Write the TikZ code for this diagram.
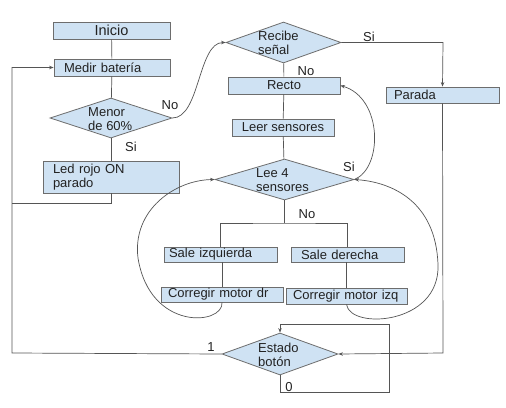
\documentclass[tikz,border=0pt]{standalone}
\usepackage{fontspec}
\setmainfont{Liberation Sans}
\usetikzlibrary{shapes.geometric,arrows.meta}
\definecolor{boxfill}{HTML}{CFE2F3}
\definecolor{boxline}{HTML}{6D6D6D}
\definecolor{conn}{HTML}{555555}
\definecolor{txt}{HTML}{222222}
\tikzset{
  every node/.style={font=\fontsize{13}{14}\selectfont, text=txt},
  box/.style={draw=boxline, fill=boxfill, line width=0.8pt, rectangle, inner ysep=0pt, minimum height=#1},
  box/.default=17pt,
  lbox/.style 2 args={box, text width=#1-2*#2, inner xsep=#2, align=left},
  dia/.style={draw=boxline, fill=boxfill, line width=0.8pt, diamond, inner sep=0pt},
  dtext/.style={anchor=west, align=left, inner sep=0pt},
  lab/.style={inner sep=0pt},
  link/.style={draw=conn, line width=0.7pt},
  arr/.style={link, -{Stealth[length=4.5pt,width=3.5pt]}},
}
\begin{document}
\begin{tikzpicture}[x=1pt,y=-1pt]
\useasboundingbox (0,0) rectangle (506,407);
\fill[white] (0,0) rectangle (506,407);

% boxes
\node[box, minimum width=117pt, font=\fontsize{14.5}{16}\selectfont] (inicio) at (111.5,30.5) {Inicio};
\node[lbox={116pt}{10pt}] (medir) at (112,67.5) {Medir batería};
\node[lbox={136pt}{10pt}, minimum height=32pt] (led) at (111,177) {Led rojo ON\\parado};
\node[box, minimum width=112pt] (recto) at (284,85.5) {Recto};
\node[box, minimum width=102pt] (leer) at (283,127.5) {Leer sensores};
\node[lbox={113pt}{8pt}, minimum height=16pt] (parada) at (442.5,95) {Parada};
\node[lbox={113pt}{5pt}, minimum height=15pt] (sizq) at (220.5,254.5) {Sale izquierda};
\node[lbox={113pt}{10pt}, minimum height=15pt] (sder) at (347.5,254.5) {Sale derecha};
\node[lbox={122pt}{7pt}, minimum height=15pt] (cdr) at (222,294.5) {Corregir motor dr};
\node[lbox={121pt}{7pt}, minimum height=16pt] (cizq) at (346.5,296) {Corregir motor izq};

% diamonds
\node[dia, minimum width=122pt, minimum height=40pt] (menor) at (111,118) {};
\node[dtext] at (88,119) {Menor\\de 60\%};
\node[dia, minimum width=115pt, minimum height=41pt] (recibe) at (283.5,42.5) {};
\node[dtext] at (258,42.5) {Recibe\\señal};
\node[dia, minimum width=139pt, minimum height=41pt] (lee) at (284.5,179.5) {};
\node[dtext] at (256,180) {Lee 4\\sensores};
\node[dia, minimum width=116pt, minimum height=42pt] (estado) at (280,354) {};
\node[dtext] at (258,354.5) {Estado\\botón};

% coordinates
\coordinate (lefttop) at (12,67.5);
\coordinate (leftmid) at (12,203);
\coordinate (leftbot) at (12,353);
\coordinate (ledturn) at (111,203);
\coordinate (sitop) at (443,42.5);
\coordinate (parbot) at (443,353);
\coordinate (br) at (284.5,223);
\coordinate (l0a) at (280,392);
\coordinate (l0b) at (389,392);
\coordinate (l0c) at (389,324);
\coordinate (l0d) at (280,324);
\coordinate (lmid) at (138,258);
\coordinate (rmid) at (438,265);

% straight connectors
\draw[link] (inicio) -- (medir);
\draw[link] (medir) -- (menor);
\draw[link] (menor) -- (led);
\draw[link] (led.south) -- (ledturn) -- (leftmid);
\draw[arr] (estado.west) -- (leftbot) -- (lefttop) -- (medir.west);
\draw[link] (recibe) -- (recto);
\draw[link] (recto) -- (leer);
\draw[link] (leer) -- (lee);
\draw[arr] (recibe.east) -- (sitop) -- (parada.north);
\draw[arr] (parada.south) -- (parbot) -- (estado.east);
\draw[link] (lee.south) -- (br);
\draw[link] (sizq.north) |- (br) -| (sder.north);
\draw[link] (sizq.south -| cdr.north) -- (cdr.north);
\draw[link] (sder.south -| cizq.north) -- (cizq.north);
\draw[arr] (estado.south) -- (l0a) -- (l0b) -- (l0c) -- (l0d) -- (estado.north);

% curved connectors
\draw[arr] (menor.east) .. controls (200,118) and (198,42.5) .. (recibe.west);
\draw[arr] (lee.east) .. controls (383,168) and (383,98) .. (recto.east);
\draw[arr] (cdr.south) .. controls (224,325) and (150,332) .. (lmid)
   .. controls (132,210) and (175,180) .. (lee.west);
\draw[arr] (cizq.south) .. controls (350,330) and (440,325) .. (rmid)
   .. controls (436,200) and (390,182) .. (lee.east);

% labels
\node[lab] (lno1) at (170,105) {No};
\node[lab] (lsi1) at (131,147) {Si};
\node[lab] (lsi2) at (369,36.5) {Si};
\node[lab] (lno2) at (306,71.5) {No};
\node[lab] (lsi3) at (349,166.5) {Si};
\node[lab] (lno3) at (307,214.5) {No};
\node[lab] (l1) at (211,347) {1};
\node[lab] (l0) at (289,387.5) {0};
\end{tikzpicture}
\end{document}
